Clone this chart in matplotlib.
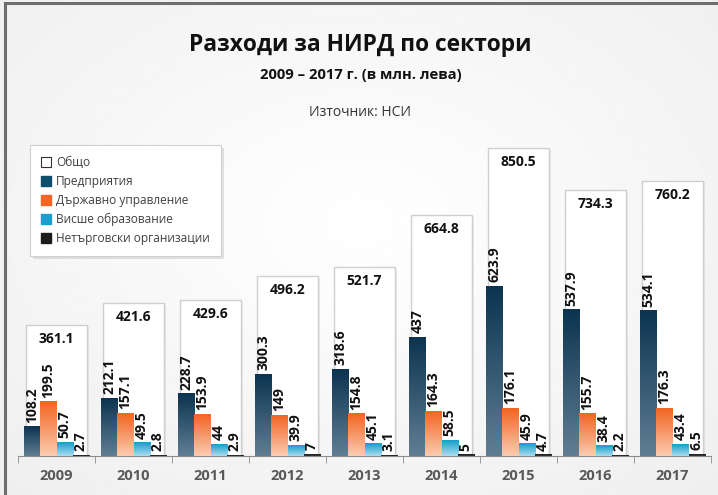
import matplotlib

matplotlib.use("Agg")
import matplotlib.pyplot as plt
import numpy as np
from matplotlib.colors import LinearSegmentedColormap
from matplotlib.lines import Line2D
from matplotlib.patches import Rectangle

years = ["2009", "2010", "2011", "2012", "2013", "2014", "2015", "2016", "2017"]
total = [361.1, 421.6, 429.6, 496.2, 521.7, 664.8, 850.5, 734.3, 760.2]
enterprises = [108.2, 212.1, 228.7, 300.3, 318.6, 437, 623.9, 537.9, 534.1]
government = [199.5, 157.1, 153.9, 149, 154.8, 164.3, 176.1, 155.7, 176.3]
higher_edu = [50.7, 49.5, 44, 39.9, 45.1, 58.5, 45.9, 38.4, 43.4]
nonprofit = [2.7, 2.8, 2.9, 7, 3.1, 5, 4.7, 2.2, 6.5]

series_labels = ["Общо", "Предприятия", "Държавно управление",
                 "Висше образование", "Нетърговски организации"]
# (top colour, bottom colour) for the gradient fills
GRADIENTS = [("#0c3450", "#5f7e93"), ("#f26522", "#fbcbb0"),
             ("#149ecb", "#aadcef"), ("#1c1c1c", "#3a3a3a")]
LEGEND_COLORS = ["#0e4f6e", "#f26522", "#1a9fcf", "#1c1c1c"]

W, H = 718, 495
fig = plt.figure(figsize=(W / 100, H / 100), dpi=100)

# radial background
bg = fig.add_axes([0, 0, 1, 1], zorder=-10)
yy, xx = np.mgrid[0:1:200j, 0:1:300j]
r = np.sqrt(((xx - 0.5) / 0.8) ** 2 + ((yy - 0.45) / 0.8) ** 2)
bg.imshow(1 - np.clip(r, 0, 1) * 0.07, cmap="gray", vmin=0, vmax=1,
          extent=[0, 1, 0, 1], aspect="auto")
bg.set_axis_off()

# frame lines (top and left)
fig.add_artist(Line2D([5 / W, 1], [1 - 3 / H] * 2, color="#6e6e6e", lw=2.2))
fig.add_artist(Line2D([5 / W] * 2, [0, 1 - 3 / H], color="#6e6e6e", lw=2.2))

# primary axis for the total, secondary scale for the sectors
ax = fig.add_axes([18 / W, 39 / H, 693 / W, 362 / H])
ax.set_facecolor("none")
ax2 = ax.twinx()
ax2.set_facecolor("none")

x = np.arange(len(years))
bw = 0.208
sub = [enterprises, government, higher_edu, nonprofit]
unit = 362 / 1000      # px per unit, primary axis
unit2 = 0.272          # px per unit, secondary axis

for i in range(len(years)):
    ax.add_patch(Rectangle((x[i] - 0.39 + 0.035, 0), 0.78, total[i] - 4,
                           facecolor="#000000", alpha=0.06, lw=0, zorder=1))
    ax.add_patch(Rectangle((x[i] - 0.39, 0), 0.78, total[i],
                           facecolor="white", edgecolor="#cfcfcf", lw=1, zorder=2))
    ax.text(x[i], total[i] - 14 / unit, f"{total[i]:g}", ha="center", va="center",
            fontsize=10, fontweight="bold", family="Open Sans", color="#111111",
            zorder=5)
    for k, vals in enumerate(sub):
        x0 = x[i] + (k - 1.5) * bw - bw / 2
        v = vals[i]
        cmap = LinearSegmentedColormap.from_list("g", [GRADIENTS[k][1], GRADIENTS[k][0]])
        grad = np.linspace(0, 1, 64).reshape(-1, 1)
        ax2.imshow(grad, cmap=cmap, origin="lower", extent=[x0, x0 + bw, 0, v],
                   aspect="auto", zorder=3)
        ax2.text(x0 + bw / 2, v + 4 / unit2, f"{v:g}", rotation=90, ha="center",
                 va="bottom", fontsize=10, fontweight="bold", family="Open Sans",
                 color="#111111", zorder=5)

for a, top in ((ax, 1000), (ax2, 362 / unit2)):
    a.set_xlim(-0.5, len(years) - 0.5)
    a.set_ylim(0, top)
    a.set_yticks([])
    for s in ["top", "right", "left"]:
        a.spines[s].set_visible(False)
ax2.spines["bottom"].set_visible(False)
ax.spines["bottom"].set_color("#8c8c8c")
ax.set_xticks(x)
ax.set_xticklabels(years)
ax.set_xticks(np.arange(-0.5, len(years)), minor=True)
ax.tick_params(axis="x", which="major", length=0, pad=9, labelsize=10.5,
               labelcolor="#595959")
ax.tick_params(axis="x", which="minor", length=5, color="#8c8c8c")
for t in ax.get_xticklabels():
    t.set_fontweight("bold")
    t.set_family("Open Sans")

# legend
handles = [Line2D([], [], marker="s", ls="", markersize=7, markerfacecolor="white",
                  markeredgecolor="#333333", markeredgewidth=0.8)]
for c in LEGEND_COLORS:
    handles.append(Line2D([], [], marker="s", ls="", markersize=7,
                          markerfacecolor=c, markeredgecolor=c))
leg = fig.legend(handles, series_labels, loc="upper left",
                 bbox_to_anchor=(30 / W, 1 - 145 / H), frameon=True, fancybox=False,
                 shadow={"color": "#000000", "alpha": 0.1, "lw": 0},
                 prop={"family": "Open Sans", "size": 8.6},
                 handlelength=0.8, handletextpad=0.5, labelspacing=0.5,
                 borderpad=0.9, borderaxespad=0)
leg.get_frame().set_edgecolor("#d0d0d0")
leg.get_frame().set_linewidth(0.8)
for t in leg.get_texts():
    t.set_color("#404040")

fig.text(0.502, 1 - 45 / H, "Разходи за НИРД по сектори", ha="center", va="center",
         fontsize=16.4, fontweight="bold", family="Open Sans", color="#111111")
fig.text(0.502, 1 - 75 / H, "2009 – 2017 г. (в млн. лева)", ha="center", va="center",
         fontsize=10.6, fontweight="bold", family="Open Sans", color="#111111")
fig.text(0.502, 1 - 113 / H, "Източник: НСИ", ha="center", va="center",
         fontsize=10, family="Open Sans", color="#333333")

fig.savefig("out.png", dpi=100)
